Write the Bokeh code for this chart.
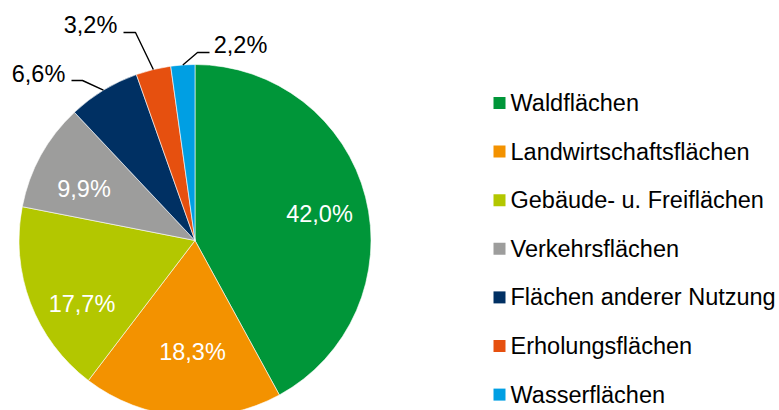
import math
from bokeh.plotting import figure
from bokeh.models import Range1d, ColumnDataSource
from bokeh.core.properties import value
from bokeh.embed import file_html
from bokeh.resources import INLINE

# ---- data ----
categories = ["Waldflächen", "Landwirtschaftsflächen", "Gebäude- u. Freiflächen",
              "Verkehrsflächen", "Flächen anderer Nutzung", "Erholungsflächen", "Wasserflächen"]
shares = [42.0, 18.3, 17.7, 9.9, 6.6, 3.2, 2.2]
labels = ["42,0%", "18,3%", "17,7%", "9,9%", "6,6%", "3,2%", "2,2%"]
colors = ["#009639", "#F39200", "#B3C700", "#9D9D9C", "#003063", "#E6500F", "#009FE3"]

# ---- layout (pixel coordinates of the reference) ----
W, H = 779, 410
def px(x): return x
def py(y): return H - y

CX, CY, R = 194.5, 240.0, 176.0
inside = {0: (319, 213), 1: (192, 351), 2: (81.5, 303), 3: (83.5, 188)}
outside = {4: ((38, 73), (71, 80), (82, 80)),
           5: ((90, 24), (123, 32), (135, 32)),
           6: ((240, 44), (209, 52), (197, 52))}
FONT = "Liberation Sans"
FS = "23.5px"

p = figure(width=W, height=H, x_range=Range1d(0, W), y_range=Range1d(0, H),
           output_backend="svg", toolbar_location=None, min_border=0)
p.axis.visible = False
p.grid.visible = False
p.outline_line_color = None
p.background_fill_color = "white"

total = sum(shares)
starts, ends, mids = [], [], []
cum = 0.0
for s in shares:
    a0 = math.pi / 2 - 2 * math.pi * (cum + s) / total
    a1 = math.pi / 2 - 2 * math.pi * cum / total
    starts.append(a0)
    ends.append(a1)
    mids.append((a0 + a1) / 2)
    cum += s

src = ColumnDataSource(dict(x=[px(CX)] * len(shares), y=[py(CY)] * len(shares),
                            start=starts, end=ends, color=colors))
p.wedge(x="x", y="y", radius=R, start_angle="start", end_angle="end",
        fill_color="color", line_color="white", line_width=0.6, source=src)

# inside labels
ix = [px(inside[i][0]) for i in inside]
iy = [py(inside[i][1]) for i in inside]
it = [labels[i] for i in inside]
p.text(x=ix, y=iy, text=it, text_color="white", text_font=value(FONT),
       text_font_size=FS, text_align="center", text_baseline="middle")

# outside labels with leader lines
for i, (lab, end, elbow) in outside.items():
    ex = CX + R * math.cos(mids[i])
    ey = CY - R * math.sin(mids[i])
    p.line(x=[px(ex), px(elbow[0]), px(end[0])], y=[py(ey), py(elbow[1]), py(end[1])],
           line_color="black", line_width=1.4)
    p.text(x=[px(lab[0])], y=[py(lab[1])], text=[labels[i]], text_color="black",
           text_font=value(FONT), text_font_size=FS, text_align="center",
           text_baseline="middle")

# legend
LX, LY0, DY, SQ = 499, 102.5, 48.6, 12
lx = [px(LX)] * len(categories)
ly = [py(LY0 + k * DY) for k in range(len(categories))]
p.rect(x=lx, y=ly, width=SQ, height=SQ, fill_color=colors, line_color=None)
p.text(x=[px(LX + 11)] * len(categories), y=ly, text=categories, text_color="black",
       text_font=value(FONT), text_font_size=FS, text_align="left", text_baseline="middle")

open("out.html", "w").write(file_html(p, INLINE))
